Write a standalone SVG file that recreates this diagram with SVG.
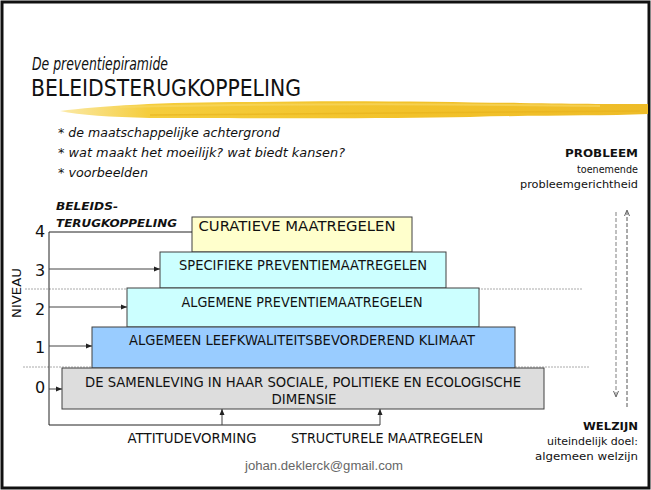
<svg xmlns="http://www.w3.org/2000/svg" width="651" height="490" viewBox="0 0 651 490">
<style>
.t{font-family:"DejaVu Sans","Liberation Sans",sans-serif;fill:#111}
.box{stroke:#404040;stroke-width:1}
.bt{font-family:"DejaVu Sans","Liberation Sans",sans-serif;font-size:13.5px;fill:#111;text-anchor:middle}
.num{font-family:"DejaVu Sans","Liberation Sans",sans-serif;font-size:16px;fill:#111;text-anchor:middle}
.lvl{stroke:#444;stroke-width:1;fill:none;marker-end:url(#ah)}
.ax{stroke:#222;stroke-width:1;fill:none}
.dot{stroke:#aaa;stroke-width:1;stroke-dasharray:2,1;fill:none}
.r{font-family:"DejaVu Sans","Liberation Sans",sans-serif;font-size:11px;fill:#111;text-anchor:end}
</style>
<defs>
<marker id="ah" markerUnits="userSpaceOnUse" markerWidth="7" markerHeight="6" refX="6" refY="3" orient="auto"><path d="M0,0.5 L6,3 L0,5.5 Z" fill="#222"/></marker>
<marker id="ahg" markerUnits="userSpaceOnUse" markerWidth="7" markerHeight="6" refX="6" refY="3" orient="auto"><path d="M0,0.5 L6,3 L0,5.5" fill="none" stroke="#666" stroke-width="1"/></marker>
<linearGradient id="brush" x1="0" y1="0" x2="1" y2="0">
<stop offset="0" stop-color="#fbeaa8"/>
<stop offset="0.15" stop-color="#f5cd3c"/>
<stop offset="0.6" stop-color="#f2c22a"/>
<stop offset="1" stop-color="#eebc28"/>
</linearGradient>
</defs>
<rect x="0" y="0" width="651" height="490" fill="#fff"/>
<rect x="2" y="2" width="647" height="486" fill="none" stroke="#111" stroke-width="3"/>

<g id="title">
<text class="t" x="32" y="70" font-size="18" font-style="italic" textLength="136" lengthAdjust="spacingAndGlyphs">De preventiepiramide</text>
<text class="t" x="31" y="96" font-size="23" textLength="270" lengthAdjust="spacingAndGlyphs">BELEIDSTERUGKOPPELING</text>
<path d="M60 111 C100 106 160 102 250 102 C350 100 450 102 520 103 C580 104 620 104 648 104 L648 114 C600 116 540 115 470 117 C380 119 250 118 150 118 C110 117 80 115 60 111 Z" fill="url(#brush)"/>
<path d="M120 107 C250 104 400 103 600 106" stroke="#f8da6a" stroke-width="2" fill="none" opacity="0.6"/>
<path d="M150 115 C300 114 450 113 640 111" stroke="#e6b01a" stroke-width="1.5" fill="none" opacity="0.6"/>
</g>

<g id="bullets" font-style="italic">
<text class="t" x="58" y="137" font-size="12.5" textLength="222" lengthAdjust="spacingAndGlyphs">* de maatschappelijke achtergrond</text>
<text class="t" x="58" y="157" font-size="12.5" textLength="287" lengthAdjust="spacingAndGlyphs">* wat maakt het moeilijk? wat biedt kansen?</text>
<text class="t" x="58" y="177" font-size="12.5" textLength="90" lengthAdjust="spacingAndGlyphs">* voorbeelden</text>
</g>

<g id="probleem">
<text class="r" x="638" y="157" font-weight="bold" textLength="73" lengthAdjust="spacingAndGlyphs">PROBLEEM</text>
<text class="r" x="638" y="173" textLength="61" lengthAdjust="spacingAndGlyphs">toenemende</text>
<text class="r" x="638" y="188" textLength="118" lengthAdjust="spacingAndGlyphs">probleemgerichtheid</text>
</g>
<g id="welzijn">
<text class="r" x="638" y="430" font-weight="bold" textLength="55" lengthAdjust="spacingAndGlyphs">WELZIJN</text>
<text class="r" x="638" y="445" textLength="91" lengthAdjust="spacingAndGlyphs">uiteindelijk doel:</text>
<text class="r" x="638" y="460" textLength="103" lengthAdjust="spacingAndGlyphs">algemeen welzijn</text>
</g>

<g id="beleids">
<text class="t" x="56" y="210" font-size="10.5" font-weight="bold" font-style="italic" textLength="62" lengthAdjust="spacingAndGlyphs">BELEIDS-</text>
<text class="t" x="56" y="227" font-size="10.5" font-weight="bold" font-style="italic" textLength="121" lengthAdjust="spacingAndGlyphs">TERUGKOPPELING</text>
</g>

<g id="niveau">
<text class="t" font-size="13" text-anchor="middle" transform="translate(21,293) rotate(-90)" textLength="50" lengthAdjust="spacingAndGlyphs">NIVEAU</text>
<text class="num" x="40" y="237">4</text>
<text class="num" x="40" y="276">3</text>
<text class="num" x="40" y="315">2</text>
<text class="num" x="40" y="353">1</text>
<text class="num" x="40" y="393">0</text>
</g>

<g id="guides">
<line class="dot" x1="25" y1="289" x2="582" y2="289"/>
<line class="dot" x1="23" y1="367" x2="590" y2="367"/>
</g>

<g id="level4">
<rect class="box" x="192" y="217" width="220" height="35" fill="#ffffcc"/>
<text class="bt" x="297" y="231" textLength="197" lengthAdjust="spacingAndGlyphs">CURATIEVE MAATREGELEN</text>
</g>
<g id="level3">
<rect class="box" x="160" y="252" width="286" height="36" fill="#ccffff"/>
<text class="bt" x="303" y="270" textLength="248" lengthAdjust="spacingAndGlyphs">SPECIFIEKE PREVENTIEMAATREGELEN</text>
</g>
<g id="level2">
<rect class="box" x="127" y="288" width="352" height="39" fill="#ccffff"/>
<text class="bt" x="302" y="307" textLength="241" lengthAdjust="spacingAndGlyphs">ALGEMENE PREVENTIEMAATREGELEN</text>
</g>
<g id="level1">
<rect class="box" x="92" y="327" width="423" height="41" fill="#99ccff"/>
<text class="bt" x="302" y="345" textLength="346" lengthAdjust="spacingAndGlyphs">ALGEMEEN LEEFKWALITEITSBEVORDEREND KLIMAAT</text>
</g>
<g id="level0">
<rect class="box" x="62" y="368" width="482" height="41" fill="#dddddd"/>
<text class="bt" x="303" y="387" textLength="436" lengthAdjust="spacingAndGlyphs">DE SAMENLEVING IN HAAR SOCIALE, POLITIEKE EN ECOLOGISCHE</text>
<text class="bt" x="304" y="404" textLength="65" lengthAdjust="spacingAndGlyphs">DIMENSIE</text>
</g>

<g id="bottom-labels">
<text class="bt" x="192" y="443" textLength="129" lengthAdjust="spacingAndGlyphs">ATTITUDEVORMING</text>
<text class="bt" x="387" y="443" textLength="192" lengthAdjust="spacingAndGlyphs">STRUCTURELE MAATREGELEN</text>
</g>

<g id="connectors">
<polyline class="ax" points="192,232 49,232 49,425 380,425"/>
<line class="lvl" x1="49" y1="269" x2="160" y2="269"/>
<line class="lvl" x1="49" y1="307" x2="127" y2="307"/>
<line class="lvl" x1="49" y1="346" x2="92" y2="346"/>
<line class="lvl" x1="49" y1="389" x2="62" y2="389"/>
<line class="lvl" x1="222" y1="425" x2="222" y2="409"/>
<line class="lvl" x1="380" y1="425" x2="380" y2="409"/>
<line x1="616" y1="212" x2="616" y2="397" stroke="#aaa" stroke-width="1.5" stroke-dasharray="4,2" marker-end="url(#ahg)"/>
<line x1="627" y1="407" x2="627" y2="210" stroke="#555" stroke-width="1" stroke-dasharray="4,2" marker-end="url(#ahg)"/>
</g>

<g id="footer">
<text x="324" y="470" font-family="Liberation Sans, Arial, sans-serif" font-size="12" fill="#666" text-anchor="middle" textLength="158" lengthAdjust="spacingAndGlyphs">johan.deklerck@gmail.com</text>
</g>
</svg>
